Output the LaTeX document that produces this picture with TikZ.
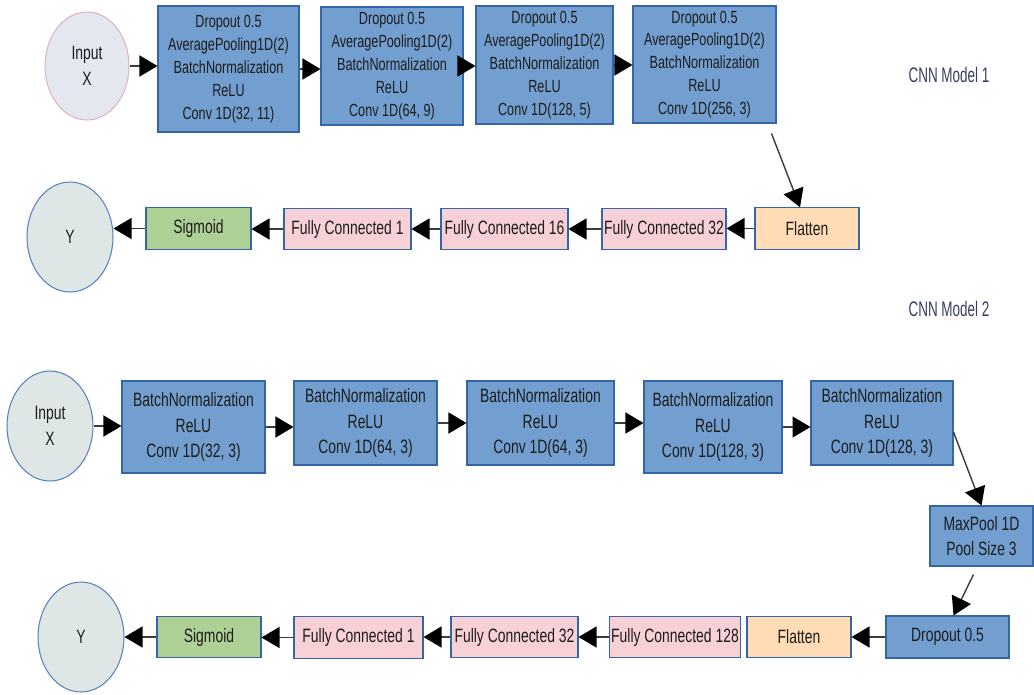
\documentclass[tikz,border=0pt]{standalone}
\usepackage{fontspec}
\setmainfont{Liberation Sans}[FakeStretch=0.72]
\newfontfamily\titlefont{Liberation Sans}[FakeStretch=0.64]
\usetikzlibrary{arrows.meta, shapes.geometric}

\definecolor{layerblue}{HTML}{729FCF}
\definecolor{edgeblue}{HTML}{3465A4}
\definecolor{fcpink}{HTML}{F8D1D6}
\definecolor{flatpeach}{HTML}{FFDBB6}
\definecolor{sigreen}{HTML}{AFD095}
\definecolor{inlav}{HTML}{E4E7F0}
\definecolor{inrim}{HTML}{DDB3C1}
\definecolor{outgrey}{HTML}{DEE6E6}
\definecolor{outrim}{HTML}{5A82BE}
\definecolor{inktext}{HTML}{1C1C1C}
\definecolor{titleink}{HTML}{34415E}
\definecolor{lineink}{HTML}{3C3C3C}

\begin{document}
\begin{tikzpicture}[
  x=0.02cm, y=-0.02cm,
  >={Triangle[length=3.6mm, width=4.2mm, color=black]},
  every node/.style={text=inktext, inner sep=1pt, align=center},
  box/.style={rectangle, draw=edgeblue, line width=0.6pt, minimum height=0.83cm},
  convbig/.style={box, fill=layerblue, font=\fontsize{10}{13}\selectfont},
  convsmall/.style={box, fill=layerblue, font=\fontsize{11}{14.6}\selectfont},
  dense/.style={box, fill=fcpink, font=\fontsize{11}{13}\selectfont},
  flat/.style={box, fill=flatpeach, font=\fontsize{11}{13}\selectfont},
  sig/.style={box, fill=sigreen, font=\fontsize{11}{13}\selectfont},
  inp/.style={ellipse, draw=inrim, fill=inlav, line width=0.6pt, minimum width=1.68cm, minimum height=2.16cm, font=\fontsize{11}{14.5}\selectfont},
  outp/.style={ellipse, draw=outrim, fill=outgrey, line width=0.6pt, minimum width=1.72cm, minimum height=2.2cm, font=\fontsize{11}{14.5}\selectfont},
  title/.style={text=titleink, font=\titlefont\fontsize{12}{14}\selectfont},
  flow/.style={->, draw=lineink, line width=0.8pt}
]
  \useasboundingbox (0,0) rectangle (1034,694);

  \node[inp] (x1) at (87,66) {Input\\X};
  \node[convbig, minimum width=2.82cm, minimum height=2.52cm] (a1) at (228.5,69) {Dropout 0.5\\AveragePooling1D(2)\\BatchNormalization\\ReLU\\Conv 1D(32, 11)};
  \node[convbig, minimum width=2.84cm, minimum height=2.36cm] (a2) at (392,66) {Dropout 0.5\\AveragePooling1D(2)\\BatchNormalization\\ReLU\\Conv 1D(64, 9)};
  \node[convbig, minimum width=2.74cm, minimum height=2.36cm] (a3) at (544.5,65) {Dropout 0.5\\AveragePooling1D(2)\\BatchNormalization\\ReLU\\Conv 1D(128, 5)};
  \node[convbig, minimum width=2.86cm, minimum height=2.34cm] (a4) at (704.5,64.5) {Dropout 0.5\\AveragePooling1D(2)\\BatchNormalization\\ReLU\\Conv 1D(256, 3)};
  \node[title] (t1) at (949,75) {CNN Model 1};

  \node[flat, minimum width=2.08cm] (fl1) at (807,228.5) {Flatten};
  \node[dense, minimum width=2.48cm] (d32a) at (664,229) {Fully Connected 32};
  \node[dense, minimum width=2.54cm] (d16a) at (504.5,229) {Fully Connected 16};
  \node[dense, minimum width=2.54cm] (d1a) at (347.5,229) {Fully Connected 1};
  \node[sig, minimum width=2.1cm] (s1) at (198.5,228.5) {Sigmoid};
  \node[outp] (y1) at (70,237) {Y};

  \draw[flow] (x1.east) -- (x1.east -| a1.west);
  \draw[flow] (a1.east) -- (a1.east -| a2.west);
  \draw[flow] (a2.east) -- (a2.east -| a3.west);
  \draw[flow] (a3.east) -- (a3.east -| a4.west);
  \draw[flow] ([shift={(-5,10)}]a4.south east) -- ([xshift=-0.14cm]fl1.north);
  \draw[flow] (fl1.west) -- (fl1.west -| d32a.east);
  \draw[flow] (d32a.west) -- (d32a.west -| d16a.east);
  \draw[flow] (d16a.west) -- (d16a.west -| d1a.east);
  \draw[flow] (d1a.west) -- (d1a.west -| s1.east);
  \draw[flow] (s1.west) -- (s1.west -| y1.east);

  \node[title] (t2) at (949,309) {CNN Model 2};
  \node[outp] (x2) at (50,426) {Input\\X};
  \node[convsmall, minimum width=2.86cm, minimum height=1.84cm] (b1) at (193.5,427) {BatchNormalization\\ReLU\\Conv 1D(32, 3)};
  \node[convsmall, minimum width=2.86cm, minimum height=1.68cm] (b2) at (365.5,423) {BatchNormalization\\ReLU\\Conv 1D(64, 3)};
  \node[convsmall, minimum width=2.94cm, minimum height=1.68cm] (b3) at (540.5,423) {BatchNormalization\\ReLU\\Conv 1D(64, 3)};
  \node[convsmall, minimum width=2.76cm, minimum height=1.84cm] (b4) at (713,427) {BatchNormalization\\ReLU\\Conv 1D(128, 3)};
  \node[convsmall, minimum width=2.84cm, minimum height=1.68cm] (b5) at (882,423) {BatchNormalization\\ReLU\\Conv 1D(128, 3)};
  \node[convsmall, minimum width=2.06cm, minimum height=1.2cm] (mp) at (981.5,536) {MaxPool 1D\\Pool Size 3};
  \node[convsmall, minimum width=2.46cm, minimum height=0.84cm] (dr) at (947.5,637) {Dropout 0.5};
  \node[flat, minimum width=2.08cm] (fl2) at (799,637) {Flatten};
  \node[dense, minimum width=2.48cm] (d128) at (675,637) {Fully Connected 128};
  \node[dense, minimum width=2.54cm] (d32b) at (514.5,637) {Fully Connected 32};
  \node[dense, minimum width=2.58cm] (d1b) at (358.5,637.5) {Fully Connected 1};
  \node[sig, minimum width=2.08cm] (s2) at (209,637) {Sigmoid};
  \node[outp] (y2) at (81,637) {Y};

  \draw[flow] (x2.east) -- (x2.east -| b1.west);
  \draw[flow] (b1.east) -- (b1.east -| b2.west);
  \draw[flow] (b2.east) -- (b2.east -| b3.west);
  \draw[flow] (b3.east) -- (b3.east -| b4.west);
  \draw[flow] (b4.east) -- (b4.east -| b5.west);
  \draw[flow] ([yshift=-0.18cm]b5.east) -- (mp.north);
  \draw[flow] ([shift={(-8,8)}]mp.south) -- ([xshift=0.12cm]dr.north);
  \draw[flow] (dr.west) -- (dr.west -| fl2.east);
  \draw[flow] (d128.west) -- (d128.west -| d32b.east);
  \draw[flow] (d32b.west) -- (d32b.west -| d1b.east);
  \draw[flow] (d1b.west) -- (d1b.west -| s2.east);
  \draw[flow] (s2.west) -- (s2.west -| y2.east);
\end{tikzpicture}
\end{document}
